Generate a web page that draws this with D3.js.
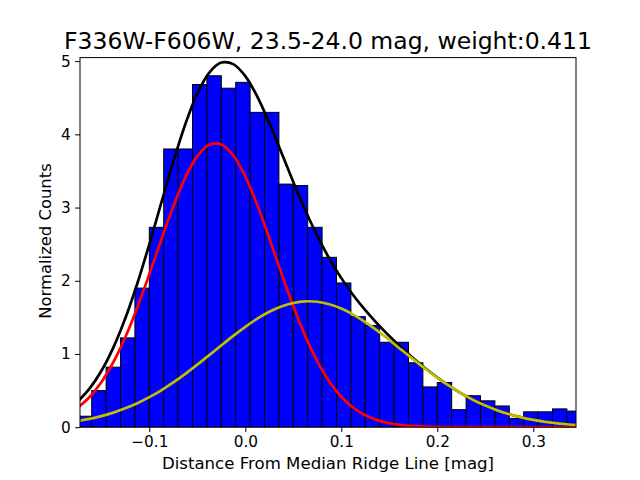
<!DOCTYPE html>
<html>
<head>
<meta charset="utf-8">
<script src="https://cdn.jsdelivr.net/npm/d3@7"></script>
<style>
  body { margin: 0; background: #fff; }
  svg { display: block; font-family: "DejaVu Sans", sans-serif; }
</style>
</head>
<body>
<div id="chart"></div>
<script>
// histogram bin edges (mag) and normalized counts per bin
const binEdges = [-0.175, -0.16, -0.145, -0.13, -0.115, -0.1, -0.085, -0.07, -0.055, -0.04,
  -0.025, -0.01, 0.005, 0.02, 0.035, 0.05, 0.065, 0.08, 0.095, 0.11,
  0.125, 0.14, 0.155, 0.17, 0.185, 0.2, 0.215, 0.23, 0.245, 0.26,
  0.275, 0.29, 0.305, 0.32, 0.335, 0.35];
const counts = [0.15, 0.50, 0.82, 1.22, 1.90, 2.73, 3.80, 3.80, 4.68, 4.80,
  4.63, 4.71, 4.30, 4.30, 3.32, 3.30, 2.73, 2.32, 1.97, 1.51,
  1.39, 1.16, 1.16, 0.88, 0.55, 0.61, 0.24, 0.43, 0.36, 0.29,
  0.12, 0.21, 0.21, 0.25, 0.22];

// fitted curves, sampled along x
const curveX = [-0.175, -0.1625, -0.15, -0.1375, -0.125, -0.1125, -0.1, -0.0875, -0.075, -0.0625,
  -0.05, -0.0375, -0.025, -0.0125, 0, 0.0125, 0.025, 0.0375, 0.05, 0.0625,
  0.075, 0.0875, 0.1, 0.1125, 0.125, 0.1375, 0.15, 0.1625, 0.175, 0.1875,
  0.2, 0.2125, 0.225, 0.2375, 0.25, 0.2625, 0.275, 0.2875, 0.3, 0.3125,
  0.325, 0.3375, 0.35];
const redCurve = [0.262, 0.409, 0.615, 0.887, 1.229, 1.635, 2.089, 2.562, 3.016, 3.410,
  3.702, 3.859, 3.862, 3.711, 3.424, 3.033, 2.580, 2.108, 1.653, 1.244,
  0.900, 0.625, 0.416, 0.266, 0.164, 0.097, 0.055, 0.030, 0.016, 0.008,
  0.004, 0.002, 0.001, 0.0003, 0.0001, 0, 0, 0, 0, 0,
  0, 0, 0];
const yellowCurve = [0.084, 0.114, 0.152, 0.199, 0.258, 0.327, 0.410, 0.504, 0.611, 0.728,
  0.854, 0.985, 1.118, 1.248, 1.371, 1.482, 1.576, 1.649, 1.697, 1.719,
  1.713, 1.679, 1.620, 1.537, 1.435, 1.318, 1.191, 1.059, 0.927, 0.798,
  0.675, 0.563, 0.461, 0.372, 0.295, 0.230, 0.177, 0.134, 0.099, 0.073,
  0.052, 0.037, 0.026];
const blackCurve = [0.345, 0.523, 0.767, 1.087, 1.487, 1.963, 2.498, 3.066, 3.627, 4.138,
  4.556, 4.843, 4.980, 4.959, 4.795, 4.515, 4.156, 3.756, 3.350, 2.963,
  2.613, 2.304, 2.036, 1.803, 1.599, 1.415, 1.246, 1.089, 0.942, 0.805,
  0.679, 0.564, 0.462, 0.372, 0.295, 0.230, 0.177, 0.134, 0.099, 0.073,
  0.052, 0.037, 0.026];

const xTicks = [-0.1, 0.0, 0.1, 0.2, 0.3];
const yTicks = [0, 1, 2, 3, 4, 5];

const W = 640, H = 480;
const margin = { left: 80, right: 64, top: 57.6, bottom: 52.8 };

const svg = d3.select("#chart").append("svg")
  .attr("width", W).attr("height", H);

const x = d3.scaleLinear().domain([-0.1722, 0.3445]).range([margin.left, W - margin.right]);
const y = d3.scaleLinear().domain([0, 5.048]).range([H - margin.bottom, margin.top]);

svg.append("clipPath").attr("id", "plot-area")
  .append("rect")
  .attr("x", margin.left).attr("y", margin.top)
  .attr("width", W - margin.left - margin.right)
  .attr("height", H - margin.top - margin.bottom);

const plot = svg.append("g").attr("clip-path", "url(#plot-area)");

// bars
plot.selectAll("rect.bar")
  .data(counts)
  .enter().append("rect")
  .attr("class", "bar")
  .attr("x", (d, i) => x(binEdges[i]))
  .attr("width", (d, i) => x(binEdges[i + 1]) - x(binEdges[i]))
  .attr("y", d => y(d))
  .attr("height", d => y(0) - y(d))
  .attr("fill", "#0000ff")
  .attr("stroke", "#000")
  .attr("stroke-width", 1);

// curves
const line = d3.line()
  .x((d, i) => x(curveX[i]))
  .y(d => y(d))
  .curve(d3.curveCatmullRom);

[[blackCurve, "#000000"], [redCurve, "#ff0000"], [yellowCurve, "#bfbf00"]].forEach(([vals, col]) => {
  plot.append("path")
    .datum(vals)
    .attr("d", line)
    .attr("fill", "none")
    .attr("stroke", col)
    .attr("stroke-width", 2.7)
    .attr("stroke-linejoin", "round");
});

// axes
const fmtX = d => (d < 0 ? "\u2212" : "") + Math.abs(d).toFixed(1);

const xAxis = svg.append("g")
  .attr("transform", `translate(0,${H - margin.bottom})`)
  .call(d3.axisBottom(x).tickValues(xTicks).tickFormat(fmtX).tickSizeOuter(0).tickSize(4.9).tickPadding(4.5));

const yAxis = svg.append("g")
  .attr("transform", `translate(${margin.left},0)`)
  .call(d3.axisLeft(y).tickValues(yTicks).tickFormat(d3.format("d")).tickSizeOuter(0).tickSize(4.9).tickPadding(4.5));

[xAxis, yAxis].forEach(g => {
  g.select(".domain").remove();
  g.selectAll(".tick line").attr("stroke", "#000").attr("stroke-width", 1);
  g.selectAll(".tick text")
    .attr("fill", "#000")
    .style("font-family", "'DejaVu Sans', sans-serif")
    .style("font-size", "15.3px");
});

// frame
svg.append("rect")
  .attr("x", margin.left).attr("y", margin.top)
  .attr("width", W - margin.left - margin.right)
  .attr("height", H - margin.top - margin.bottom)
  .attr("fill", "none")
  .attr("stroke", "#000")
  .attr("stroke-width", 1);

// labels
svg.append("text")
  .attr("x", (margin.left + W - margin.right) / 2)
  .attr("y", 48.5)
  .attr("text-anchor", "middle")
  .style("font-size", "23.5px")
  .text("F336W-F606W, 23.5-24.0 mag, weight:0.411");

svg.append("text")
  .attr("x", (margin.left + W - margin.right) / 2)
  .attr("y", 469)
  .attr("text-anchor", "middle")
  .style("font-size", "16.6px")
  .text("Distance From Median Ridge Line [mag]");

svg.append("text")
  .attr("transform", `translate(50.7,241) rotate(-90)`)
  .attr("text-anchor", "middle")
  .style("font-size", "16.4px")
  .text("Normalized Counts");
</script>
</body>
</html>
